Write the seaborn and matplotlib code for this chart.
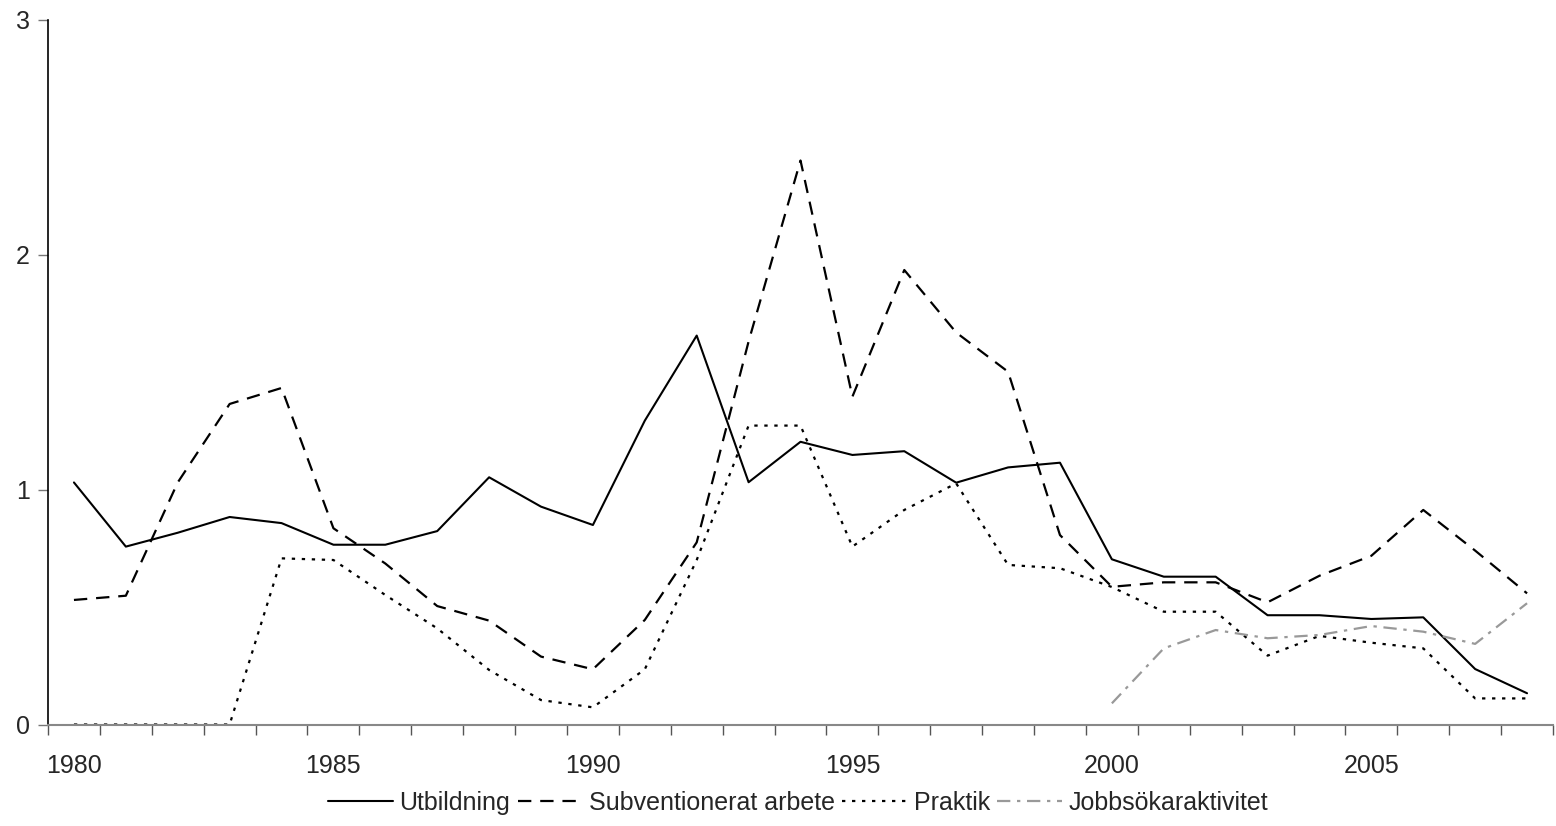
import numpy as np
import pandas as pd
import matplotlib
matplotlib.use("Agg")
import matplotlib.pyplot as plt
from matplotlib.ticker import FixedLocator
import seaborn as sns

years = list(range(1980, 2009))

utbildning = [1.03, 0.757, 0.816, 0.883, 0.857, 0.765, 0.765, 0.823, 1.052, 0.927,
              0.849, 1.293, 1.655, 1.031, 1.203, 1.147, 1.163, 1.029, 1.094, 1.114,
              0.703, 0.629, 0.629, 0.465, 0.465, 0.449, 0.456, 0.236, 0.133]

subventionerat = [0.53, 0.548, 1.03, 1.364, 1.432, 0.835, 0.685, 0.504, 0.442, 0.289,
                  0.235, 0.445, 0.775, 1.63, 2.40, 1.395, 1.934, 1.668, 1.501, 0.806,
                  0.586, 0.605, 0.605, 0.52, 0.633, 0.718, 0.913, 0.74, 0.558]

praktik = [0.0, 0.0, 0.0, 0.0, 0.707, 0.70, 0.551, 0.409, 0.232, 0.104,
           0.073, 0.235, 0.70, 1.272, 1.272, 0.757, 0.913, 1.026, 0.679, 0.665,
           0.585, 0.48, 0.48, 0.293, 0.377, 0.348, 0.324, 0.111, 0.111]

jobb_years = list(range(2000, 2009))
jobbsok = [0.09, 0.324, 0.402, 0.367, 0.381, 0.419, 0.395, 0.343, 0.516]

labels = ["Utbildning", "Subventionerat arbete", "Praktik", "Jobbsökaraktivitet"]

sns.set_style("white")
plt.rcParams['font.family'] = ['Liberation Sans', 'DejaVu Sans']

fig = plt.figure(figsize=(15.56, 8.26), dpi=100)
ax = fig.add_axes([48 / 1556, 1 - 724.5 / 826, 1505 / 1556, 705 / 826])

sns.lineplot(x=years, y=utbildning, ax=ax, color="black", linewidth=1.5,
             linestyle="-", label=labels[0])
sns.lineplot(x=years, y=subventionerat, ax=ax, color="black", linewidth=1.6,
             linestyle=(0, (6, 4)), label=labels[1])
sns.lineplot(x=years, y=praktik, ax=ax, color="black", linewidth=1.6,
             linestyle=(0, (1.5, 3)), label=labels[2])
sns.lineplot(x=jobb_years, y=jobbsok, ax=ax, color="#999999", linewidth=1.6,
             linestyle=(0, (6, 3, 1.5, 3)), label=labels[3])

ax.set_xlim(1979.5, 2008.5)
ax.set_ylim(0, 3)
ax.set_xticks([1980, 1985, 1990, 1995, 2000, 2005])
ax.set_xticklabels(["1980", "1985", "1990", "1995", "2000", "2005"])
ax.xaxis.set_minor_locator(FixedLocator(np.arange(1979.5, 2009, 1)))
ax.tick_params(axis="x", which="major", length=0, pad=21, labelsize=18)
ax.tick_params(axis="x", which="minor", length=7, width=1, color="#555555",
               direction="out", bottom=True)
ax.set_yticks([0, 1, 2, 3])
ax.tick_params(axis="y", length=7, width=1, color="#777777", direction="out",
               left=True, pad=6, labelsize=18)

sns.despine(ax=ax)
ax.spines["left"].set_color("black")
ax.spines["bottom"].set_color("#888888")
ax.spines["left"].set_linewidth(1.2)
ax.spines["bottom"].set_linewidth(1.5)
ax.set_xlabel("")
ax.set_ylabel("")

handles, lbls = ax.get_legend_handles_labels()
ax.get_legend().remove()
fig.legend(handles, lbls, loc="center", bbox_to_anchor=(0.513, 0.028), ncol=4,
           frameon=False, handlelength=2.6, handletextpad=0.25, columnspacing=0.3,
           prop={"size": 18})

fig.savefig("out.png", dpi=100)
